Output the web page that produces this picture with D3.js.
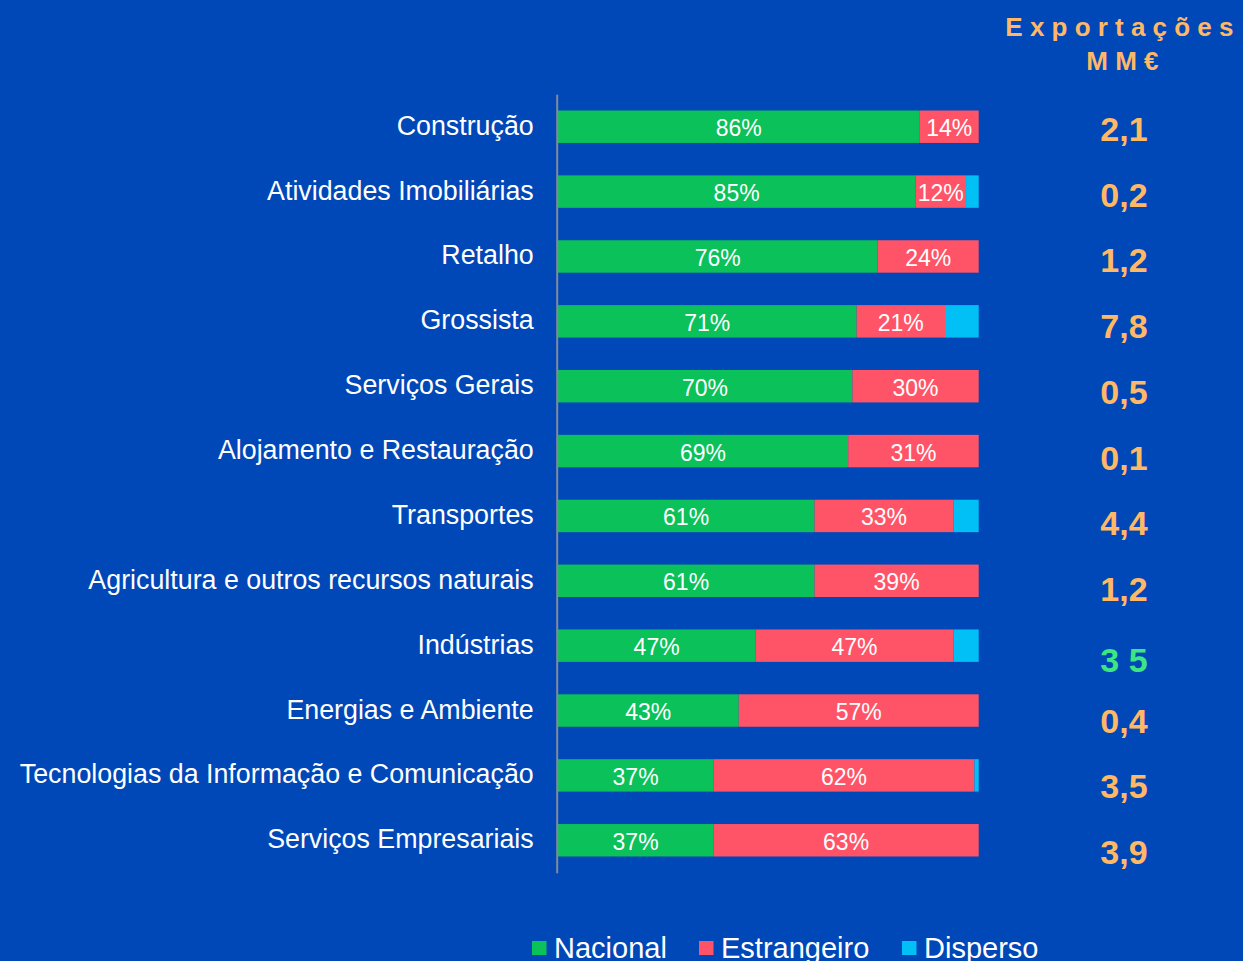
<!DOCTYPE html>
<html>
<head>
<meta charset="utf-8">
<script src="https://cdn.jsdelivr.net/npm/d3@7"></script>
<style>
  html, body { margin: 0; padding: 0; background: #0047B8; }
  svg { display: block; }
  text { font-family: "Liberation Sans", Arial, sans-serif; }
</style>
</head>
<body>
<svg id="chart" width="1243" height="961"></svg>
<script>
const categories = [
  "Construção", "Atividades Imobiliárias", "Retalho", "Grossista", "Serviços Gerais",
  "Alojamento e Restauração", "Transportes", "Agricultura e outros recursos naturais",
  "Indústrias", "Energias e Ambiente", "Tecnologias da Informação e Comunicação",
  "Serviços Empresariais"
];
const nacional     = [86, 85, 76, 71, 70, 69, 61, 61, 47, 43, 37, 37];
const estrangeiro  = [14, 12, 24, 21, 30, 31, 33, 39, 47, 57, 62, 63];
const disperso     = [0, 3, 0, 8, 0, 0, 6, 0, 6, 0, 1, 0];
const exportacoes  = ["2,1", "0,2", "1,2", "7,8", "0,5", "0,1", "4,4", "1,2", "3 5", "0,4", "3,5", "3,9"];
const highlightIdx = 8;
const seriesNames  = ["Nacional", "Estrangeiro", "Disperso"];
const seriesColors = ["#0BC15A", "#FF5467", "#00C0F5"];

const svg = d3.select("#chart");

const x = d3.scaleLinear().domain([0, 100]).range([557.7, 978.7]);
const y = d3.scaleBand().domain(categories).range([94.3, 872.7]).paddingInner(0.5).paddingOuter(0.25);
const yExp = d3.scalePoint().domain(categories).range([129, 852]);

const rows = categories.map((c, i) => ({ cat: c, vals: [nacional[i], estrangeiro[i], disperso[i]] }));
const stack = d3.stack().keys([0, 1, 2]).value((d, k) => d.vals[k]);
const stacked = stack(rows);

const gBars = svg.append("g");
stacked.forEach((layer, k) => {
  gBars.selectAll(null).data(layer).join("rect")
    .attr("x", d => x(d[0]))
    .attr("y", d => y(d.data.cat))
    .attr("width", d => Math.max(0, x(d[1]) - x(d[0])))
    .attr("height", y.bandwidth())
    .attr("fill", seriesColors[k]);
  if (k < 2) {
    gBars.selectAll(null).data(layer.filter(d => d[1] - d[0] > 0)).join("text")
      .attr("x", d => (x(d[0]) + x(d[1])) / 2)
      .attr("y", d => y(d.data.cat) + y.bandwidth() / 2 + 9.5)
      .attr("text-anchor", "middle")
      .attr("fill", "#fff")
      .attr("font-size", 23)
      .text(d => Math.round(d[1] - d[0]) + "%");
  }
});

// axis line + category labels
const axis = d3.axisLeft(y).tickSize(0).tickPadding(23);
const gAxis = svg.append("g").attr("transform", "translate(556.7,0)").call(axis);
gAxis.attr("font-family", null).attr("font-size", null);
gAxis.select(".domain").attr("stroke", "#7F8A9E").attr("stroke-width", 2);
gAxis.selectAll(".tick text")
  .attr("fill", "#fff")
  .attr("font-size", 26.8)
  .attr("dy", null)
  .attr("y", 8);

// exports column
svg.append("text").attr("x", 1123).attr("y", 36).attr("text-anchor", "middle")
  .attr("fill", "#FFB866").attr("font-size", 26).attr("font-weight", "bold")
  .attr("letter-spacing", 7.2).text("Exportações");
svg.append("text").attr("x", 1126).attr("y", 70).attr("text-anchor", "middle")
  .attr("fill", "#FFB866").attr("font-size", 26).attr("font-weight", "bold")
  .attr("letter-spacing", 7.2).text("MM€");

svg.append("g").selectAll("text").data(categories).join("text")
  .attr("x", 1124)
  .attr("y", (c, i) => yExp(c) + 12 + (i === highlightIdx ? 5 : 0))
  .attr("text-anchor", "middle")
  .attr("font-size", 34)
  .attr("font-weight", "bold")
  .attr("fill", (c, i) => i === highlightIdx ? "#3DE683" : "#FFB866")
  .text((c, i) => exportacoes[i]);

// legend
const legendX = [532, 699, 902];
const gLeg = svg.append("g");
seriesNames.forEach((n, k) => {
  gLeg.append("rect").attr("x", legendX[k]).attr("y", 941).attr("width", 14.5).attr("height", 14)
    .attr("fill", seriesColors[k]);
  gLeg.append("text").attr("x", legendX[k] + 22).attr("y", 957.5)
    .attr("fill", "#fff").attr("font-size", 29).text(n);
});
</script>
</body>
</html>
